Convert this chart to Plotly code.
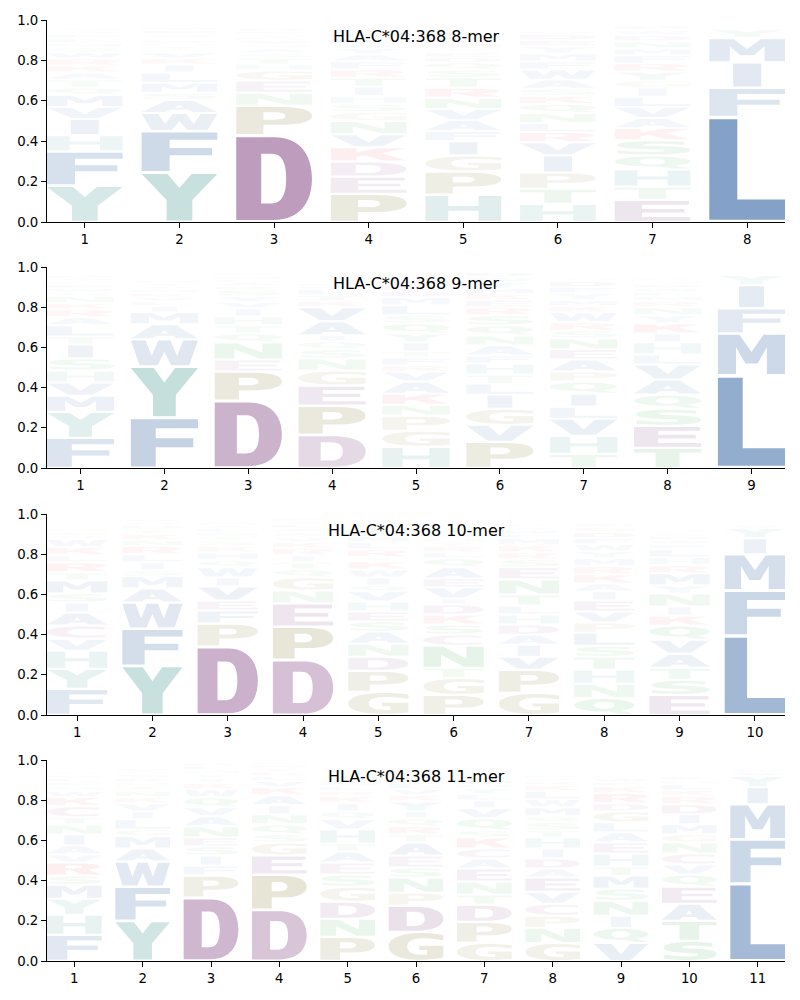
import re
import plotly.graph_objects as go
from plotly.subplots import make_subplots

# ---------------- data (letters bottom -> top, heights = frequencies) ----------------
panel_titles = ["HLA-C*04:368 8-mer", "HLA-C*04:368 9-mer",
                "HLA-C*04:368 10-mer", "HLA-C*04:368 11-mer"]

mer8_letters = ["YFHIVMQTAKRWSNLEPGDC", "YFWASMLIKVHTNRGQEDPC", "DPNEGHTSAQVKYFRLM",
                "PEDKVNGSHITRFAYQLMWC", "HPGIFAVNRTSQDEYMKWLC", "HTPIVRLNQKSAWFMYEDGC",
                "ETHQSKAVLIGYRFMNDWP", "LFIMYVWAQT"]
mer8_heights = [
    [.18, .17, .08, .08, .06, .06, .035, .04, .035, .035, .035, .03, .025, .02, .025, .02, .015, .015, .01, .01],
    [.245, .205, .09, .065, .035, .05, .05, .04, .03, .03, .015, .015, .015, .015, .01, .02, .02, .015, .015, .01],
    [.43, .145, .065, .06, .05, .03, .03, .025, .025, .02, .02, .015, .015, .015, .015, .01, .01],
    [.14, .085, .075, .07, .065, .065, .045, .04, .04, .045, .045, .04, .04, .035, .03, .02, .03, .025, .015, .02],
    [.135, .115, .08, .07, .05, .055, .055, .055, .05, .05, .04, .035, .025, .025, .02, .02, .02, .015, .03, .01],
    [.09, .075, .08, .085, .065, .05, .045, .05, .045, .04, .035, .045, .05, .04, .04, .035, .03, .03, .015, .01],
    [.11, .065, .085, .07, .075, .06, .05, .055, .05, .045, .035, .045, .04, .04, .035, .035, .03, .025, .025],
    [.52, .145, .125, .12, .045, .012, .01, .008, .005, .005],
]

mer9_letters = ["FYMVHSITLARKNQWEPGDC", "FYWAMILVKNSTHQERGDPC", "DPENQTHIVYSKALMRGWFC",
                "DPEGNSQIAVKTLMRHYFWC", "HGPNKAVRFTIYQSLMDEWC", "PVGILTHFANQSREKMYWDC",
                "THVLIQPAENSRWKMYFDGC", "TESQAVLHIKYNRMFWDGPC", "LMFIYVWA"]
mer9_heights = [
    [.15, .13, .08, .065, .06, .06, .07, .04, .055, .04, .04, .03, .035, .02, .02, .02, .015, .015, .015, .01],
    [.25, .255, .135, .075, .06, .03, .025, .02, .02, .02, .015, .015, .015, .01, .01, .01, .01, .01, .01, .005],
    [.335, .145, .06, .085, .045, .04, .045, .04, .03, .03, .03, .02, .02, .015, .015, .015, .01, .01, .01, .005],
    [.165, .145, .1, .075, .06, .045, .04, .03, .07, .07, .03, .03, .03, .015, .015, .01, .01, .01, .01, .005],
    [.105, .08, .075, .055, .055, .06, .05, .03, .04, .03, .045, .045, .05, .04, .05, .04, .03, .03, .03, .02],
    [.13, .085, .08, .07, .055, .045, .055, .04, .05, .05, .05, .05, .04, .035, .03, .03, .03, .025, .025, .01],
    [.07, .09, .085, .06, .065, .06, .05, .06, .05, .055, .04, .04, .05, .03, .03, .035, .03, .03, .015, .01],
    [.1, .11, .085, .07, .075, .075, .05, .06, .045, .05, .04, .04, .03, .025, .02, .02, .02, .015, .015, .01],
    [.46, .21, .125, .115, .05, .01, .01, .01],
]

mer10_letters = ["FYHVCAISMTRLKWQENDGP", "YFWAMSILRNKTHQVEDG", "DPFEVIWQHKSTNLAMRG",
                 "DPENGQTIRKVSALYFM", "GPDNASEHVQIWKTRLMFYC", "PGTNCSKDIVEAQLRYHMF",
                 "GPVIADHLTNESRKMFWYQC", "QNHTSLPVEIAKRMYWFDGC", "ESTAVQKINYMRHLFWDGPC",
                 "LFMIYVWAT"]
mer10_heights = [
    [.13, .1, .09, .06, .065, .065, .05, .045, .065, .04, .05, .035, .04, .04, .02, .015, .015, .01, .01, .01],
    [.245, .185, .13, .07, .06, .03, .04, .04, .04, .03, .03, .025, .02, .015, .015, .01, .01, .01],
    [.34, .115, .065, .05, .07, .045, .05, .035, .04, .03, .025, .025, .02, .02, .015, .015, .01, .01],
    [.275, .165, .115, .065, .065, .04, .035, .035, .035, .03, .025, .025, .02, .02, .015, .015, .01],
    [.115, .105, .07, .065, .06, .05, .05, .05, .05, .03, .04, .04, .04, .02, .04, .035, .03, .03, .025, .01],
    [.1, .085, .05, .11, .055, .05, .05, .05, .03, .055, .045, .055, .045, .03, .03, .02, .02, .015, .01],
    [.11, .115, .065, .06, .05, .05, .05, .045, .055, .075, .06, .04, .035, .035, .035, .02, .02, .015, .015, .01],
    [.085, .07, .07, .065, .055, .065, .05, .055, .055, .045, .04, .045, .04, .04, .035, .035, .03, .03, .025, .02],
    [.1, .075, .06, .07, .07, .07, .05, .045, .065, .04, .06, .04, .04, .04, .025, .02, .02, .015, .015, .01],
    [.395, .225, .18, .08, .05, .015, .01, .01, .005],
]

mer11_letters = ["FHYMSRVAINTCKWQELDGP", "YFWAMGLIVKNTHRSQED", "DPFISENAVQWKTYHLRGM",
                 "DPEGSQNIAKVLRYMFT", "PNDGSEATHVQIKRLMFYWC", "GDPNSEATRQIYKVLMHFWC",
                 "GPDTNEACKSQVILYHMRFW", "GNPCVEADIHTSQMWLKRYF", "VQINSMTHEALGDRKFWPC",
                 "STAEQVCNGMIDRKLHFWP", "LFMIYVWA"]
mer11_heights = [
    [.13, .1, .08, .07, .045, .065, .04, .045, .055, .05, .035, .055, .045, .03, .025, .02, .02, .015, .015, .01],
    [.2, .17, .125, .065, .06, .035, .05, .04, .04, .03, .03, .025, .02, .02, .02, .015, .015, .01],
    [.315, .11, .05, .05, .045, .045, .055, .05, .045, .05, .04, .03, .025, .02, .02, .02, .015, .01, .01],
    [.255, .175, .095, .065, .04, .05, .05, .045, .05, .04, .03, .025, .02, .02, .015, .015, .01],
    [.12, .09, .085, .075, .06, .06, .055, .04, .07, .05, .04, .04, .035, .025, .025, .02, .015, .02, .01, .01],
    [.145, .13, .065, .075, .05, .06, .065, .04, .04, .04, .035, .05, .03, .03, .03, .025, .02, .02, .015, .01],
    [.09, .105, .085, .05, .065, .065, .05, .05, .055, .035, .06, .05, .04, .03, .03, .02, .02, .015, .01, .01],
    [.09, .075, .06, .06, .06, .07, .045, .05, .05, .055, .035, .04, .03, .045, .04, .04, .03, .02, .015, .015],
    [.09, .075, .06, .075, .06, .065, .045, .065, .055, .05, .05, .055, .04, .05, .035, .02, .02, .015, .01],
    [.1, .1, .085, .085, .06, .05, .055, .055, .04, .05, .05, .05, .04, .03, .03, .02, .02, .01, .01],
    [.385, .22, .175, .085, .055, .02, .015, .01],
]

panels = [(mer8_letters, mer8_heights), (mer9_letters, mer9_heights),
          (mer10_letters, mer10_heights), (mer11_letters, mer11_heights)]

# ---------------- styling ----------------
BLUE = (20, 76, 148)
TEAL = (27, 130, 122)
PURPLE = (103, 26, 103)
OLIVE = (115, 105, 25)
GREEN = (25, 150, 45)
RED = (220, 20, 30)
MAGENTA = (130, 30, 110)
COLORS = {}
for aa in "AVLIMFW":
    COLORS[aa] = BLUE
for aa in "YH":
    COLORS[aa] = TEAL
for aa in "DE":
    COLORS[aa] = PURPLE
for aa in "PG":
    COLORS[aa] = OLIVE
for aa in "NQST":
    COLORS[aa] = GREEN
for aa in "KR":
    COLORS[aa] = RED
COLORS["C"] = MAGENTA

# glyph outlines in a unit box (x right, y up)
GLYPHS = {
    "L": "M0,0 L1,0 L1,0.2 L0.37,0.2 L0.37,1 L0,1 Z",
    "F": "M0,0 L0.37,0 L0.37,0.41 L0.93,0.41 L0.93,0.6 L0.37,0.6 L0.37,0.81 L1,0.81 L1,1 L0,1 Z",
    "E": "M0,0 L1,0 L1,0.19 L0.36,0.19 L0.36,0.42 L0.92,0.42 L0.92,0.6 L0.36,0.6 L0.36,0.81 L0.98,0.81 L0.98,1 L0,1 Z",
    "I": "M0.315,0 L0.685,0 L0.685,1 L0.315,1 Z",
    "T": "M0.32,0 L0.68,0 L0.68,0.81 L1,0.81 L1,1 L0,1 L0,0.81 L0.32,0.81 Z",
    "H": "M0,0 L0.3,0 L0.3,0.41 L0.7,0.41 L0.7,0 L1,0 L1,1 L0.7,1 L0.7,0.6 L0.3,0.6 L0.3,1 L0,1 Z",
    "Y": "M0,1 L0.34,1 L0.5,0.7 L0.66,1 L1,1 L0.67,0.44 L0.67,0 L0.33,0 L0.33,0.44 Z",
    "V": "M0,1 L0.33,1 L0.5,0.35 L0.67,1 L1,1 L0.68,0 L0.32,0 Z",
    "W": "M0,1 L0.22,1 L0.31,0.38 L0.41,1 L0.59,1 L0.69,0.38 L0.78,1 L1,1 L0.87,0 L0.6,0 L0.5,0.55 L0.4,0 L0.13,0 Z",
    "A": "M0,0 L0.32,0 L0.38,0.19 L0.62,0.19 L0.68,0 L1,0 L0.68,1 L0.32,1 Z M0.44,0.37 L0.56,0.37 L0.5,0.62 Z",
    "M": "M0,0 L0.27,0 L0.27,0.68 L0.41,0.27 L0.59,0.27 L0.73,0.68 L0.73,0 L1,0 L1,1 L0.68,1 L0.5,0.56 L0.32,1 L0,1 Z",
    "N": "M0,0 L0.29,0 L0.29,0.6 L0.67,0 L1,0 L1,1 L0.71,1 L0.71,0.4 L0.33,1 L0,1 Z",
    "K": "M0,0 L0.34,0 L0.34,0.3 L0.45,0.43 L0.68,0 L1,0 L0.67,0.6 L0.98,1 L0.6,1 L0.34,0.66 L0.34,1 L0,1 Z",
    "D": "M0,0 L0.5,0 C0.83,0 1,0.2 1,0.5 C1,0.8 0.83,1 0.5,1 L0,1 Z "
         "M0.33,0.2 L0.47,0.2 C0.6,0.2 0.66,0.3 0.66,0.5 C0.66,0.7 0.6,0.8 0.47,0.8 L0.33,0.8 Z",
    "P": "M0,0 L0.36,0 L0.36,0.34 L0.56,0.34 C0.87,0.34 1,0.48 1,0.67 C1,0.87 0.87,1 0.56,1 L0,1 Z "
         "M0.36,0.53 L0.5,0.53 C0.6,0.53 0.65,0.58 0.65,0.665 C0.65,0.75 0.6,0.81 0.5,0.81 L0.36,0.81 Z",
    "R": "M0,0 L0.34,0 L0.34,0.38 L0.43,0.38 L0.64,0 L1,0 L0.75,0.44 C0.9,0.5 0.97,0.6 0.97,0.72 "
         "C0.97,0.9 0.84,1 0.55,1 L0,1 Z "
         "M0.34,0.56 L0.48,0.56 C0.58,0.56 0.63,0.61 0.63,0.685 C0.63,0.76 0.58,0.81 0.48,0.81 L0.34,0.81 Z",
    "C": "M0.96,0.94 C0.83,0.99 0.71,1 0.58,1 C0.21,1 0,0.78 0,0.5 C0,0.22 0.21,0 0.58,0 "
         "C0.71,0 0.83,0.01 0.96,0.06 L0.96,0.27 C0.85,0.21 0.74,0.19 0.62,0.19 C0.45,0.19 0.34,0.3 0.34,0.5 "
         "C0.34,0.7 0.45,0.81 0.62,0.81 C0.74,0.81 0.85,0.79 0.96,0.73 Z",
    "G": "M1,0.93 C0.86,0.98 0.72,1 0.58,1 C0.21,1 0,0.78 0,0.5 C0,0.21 0.2,0 0.58,0 C0.75,0 0.88,0.03 1,0.08 "
         "L1,0.53 L0.56,0.53 L0.56,0.37 L0.7,0.37 L0.7,0.2 C0.67,0.19 0.64,0.19 0.61,0.19 "
         "C0.44,0.19 0.34,0.3 0.34,0.5 C0.34,0.7 0.44,0.81 0.62,0.81 C0.75,0.81 0.87,0.78 1,0.72 Z",
    "Q": "M0.5,1 C0.776,1 1,0.812 1,0.58 C1,0.348 0.776,0.16 0.5,0.16 C0.224,0.16 0,0.348 0,0.58 "
         "C0,0.812 0.224,1 0.5,1 Z "
         "M0.5,0.83 C0.594,0.83 0.67,0.718 0.67,0.58 C0.67,0.442 0.594,0.33 0.5,0.33 "
         "C0.406,0.33 0.33,0.442 0.33,0.58 C0.33,0.718 0.406,0.83 0.5,0.83 Z "
         "M0.58,0.165 L0.76,0 L1,0 L0.8,0.24 Z",
    "S": "M0.92,0.95 C0.8,0.99 0.66,1 0.52,1 C0.2,1 0.03,0.87 0.03,0.69 C0.03,0.5 0.17,0.43 0.44,0.39 "
         "C0.6,0.37 0.66,0.35 0.66,0.29 C0.66,0.22 0.58,0.19 0.46,0.19 C0.32,0.19 0.18,0.23 0.04,0.3 "
         "L0.04,0.07 C0.2,0.02 0.35,0 0.48,0 C0.83,0 1,0.12 1,0.32 C1,0.52 0.86,0.59 0.58,0.63 "
         "C0.42,0.65 0.37,0.67 0.37,0.72 C0.37,0.78 0.44,0.81 0.55,0.81 C0.67,0.81 0.8,0.78 0.92,0.72 Z",
}

LETTER_WIDTH = 0.8
TOKEN = re.compile(r"([MLCQZ])([^MLCQZ]*)")
NUM = re.compile(r"-?\d*\.?\d+")


def place(glyph, x0, w, y0, h):
    out = []
    for cmd, nums in TOKEN.findall(glyph):
        vals = [float(v) for v in NUM.findall(nums)]
        pts = [f"{x0 + vals[i] * w:.5f},{y0 + vals[i + 1] * h:.5f}" for i in range(0, len(vals), 2)]
        out.append(cmd + " ".join(pts))
    return " ".join(out)


fig = make_subplots(rows=4, cols=1, vertical_spacing=0.05)
domains = [[0.7853, 1.0], [0.5239, 0.7375], [0.2614, 0.4750], [0.0, 0.2136]]

shapes = []
for p, (letters, heights) in enumerate(panels):
    n = len(letters)
    ax = "" if p == 0 else str(p + 1)
    xs, ys, texts = [], [], []
    for i, (col_letters, col_h) in enumerate(zip(letters, heights)):
        pos = i + 1
        cum = 0.0
        for aa, h in zip(col_letters, col_h):
            pad = 0.004 + 0.015 * h
            r, g, b = COLORS[aa]
            alpha = max(0.0, min(1.0, h))
            shapes.append(dict(
                type="path",
                path=place(GLYPHS[aa], pos - LETTER_WIDTH / 2, LETTER_WIDTH, cum + pad, h - 2 * pad),
                xref="x" + ax, yref="y" + ax,
                fillcolor=f"rgba({r},{g},{b},{alpha:.3f})",
                line=dict(width=0), layer="below", fillrule="evenodd",
            ))
            xs.append(pos)
            ys.append(cum + h / 2)
            texts.append(f"{aa}: {h:.3f}")
            cum += h
    fig.add_trace(go.Scatter(x=xs, y=ys, text=texts, mode="markers", hoverinfo="text",
                             marker=dict(size=8, opacity=0), showlegend=False),
                  row=p + 1, col=1)
    fig.update_xaxes(range=[0.6, n + 0.4], tickvals=list(range(1, n + 1)),
                     ticktext=[str(k) for k in range(1, n + 1)],
                     row=p + 1, col=1)
    fig.update_yaxes(range=[0, 1], tickvals=[0, 0.2, 0.4, 0.6, 0.8, 1.0],
                     ticktext=["0.0", "0.2", "0.4", "0.6", "0.8", "1.0"],
                     domain=domains[p], row=p + 1, col=1)
    fig.add_annotation(text=panel_titles[p], xref=f"x{ax} domain", yref=f"y{ax} domain",
                       x=0.5, y=0.916, showarrow=False, xanchor="center", yanchor="middle",
                       font=dict(family="DejaVu Sans", size=16, color="black"))

fig.update_xaxes(showgrid=False, zeroline=False, showline=True, linecolor="black", linewidth=1,
                 ticks="outside", ticklen=5, tickwidth=1, tickcolor="black",
                 tickfont=dict(family="DejaVu Sans", size=13.3, color="black"), fixedrange=True)
fig.update_yaxes(showgrid=False, zeroline=False, showline=True, linecolor="black", linewidth=1,
                 ticks="outside", ticklen=5, tickwidth=1, tickcolor="black",
                 tickfont=dict(family="DejaVu Sans", size=13.3, color="black"), fixedrange=True)

fig.update_layout(
    width=800, height=1000,
    margin=dict(l=47, r=15, t=20, b=39),
    paper_bgcolor="white", plot_bgcolor="white",
    shapes=shapes, showlegend=False,
    font=dict(family="DejaVu Sans", color="black"),
)

fig.write_html("out.html")
